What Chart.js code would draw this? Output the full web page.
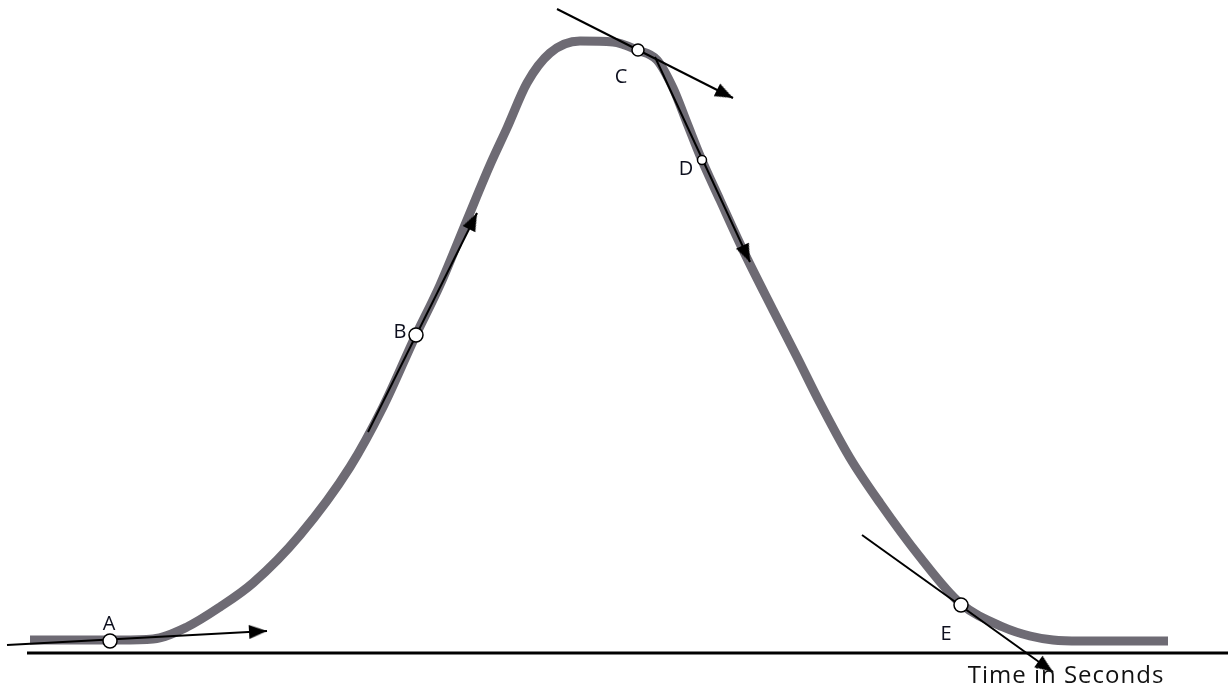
<!DOCTYPE html>
<html>
<head>
<meta charset="utf-8">
<script src="https://cdn.jsdelivr.net/npm/chart.js@4"></script>
<style>
  html, body { margin: 0; padding: 0; background: #ffffff; }
  #wrap { width: 1228px; height: 688px; }
</style>
</head>
<body>
<div id="wrap"><canvas id="c" width="1228" height="688"></canvas></div>
<script>
// ---- Data (x = time units, y = height units) ----
const curveX = [30, 80, 120, 153, 187, 220, 253, 300, 350, 383, 415, 440, 467, 490, 507, 527, 550, 580, 613, 637, 657, 673, 687, 701, 720, 743, 773, 797, 820, 850, 880, 920, 960, 1003, 1030, 1053, 1080, 1168];
const curveY = [48, 48, 48, 49, 61, 81, 105, 153, 221, 281, 351, 403, 468, 523, 560, 605, 635, 647, 646, 638, 628, 600, 565, 530, 488, 438, 378, 331, 285, 230, 185, 131, 85, 61, 52, 48, 47, 47];

const baseX = [27, 1228];
const baseY = [35, 35];

// tangent lines: start point and arrow tip
const tangentNames = ['A', 'B', 'C', 'D', 'E'];
const tangentX0 = [7, 368, 557, 655, 862];
const tangentY0 = [43, 256, 679, 631, 153];
const tangentX1 = [267, 477, 733, 750, 1053];
const tangentY1 = [57, 475, 590, 426, 16];

// marked points on the curve
const markX = [110, 416, 638, 702, 961];
const markY = [47, 353, 638, 528, 83];
const markR = [7, 7, 6, 4.5, 7];

// point labels
const labelText = ['A', 'B', 'C', 'D', 'E'];
const labelX = [109, 400, 621, 686, 946];
const labelY = [58, 350, 605, 513, 48];

const axisTitle = 'Time in Seconds';
const axisTitleX = 1066;
const axisTitleY = 5;

// ---- arrowhead image (tip at canvas centre, pointing up) ----
function makeArrowHead() {
  const cv = document.createElement('canvas');
  cv.width = 16; cv.height = 38;
  const g = cv.getContext('2d');
  g.fillStyle = '#000';
  g.beginPath();
  g.moveTo(8, 19);
  g.lineTo(15, 37);
  g.lineTo(1, 37);
  g.closePath();
  g.fill();
  return cv;
}
const arrowHead = makeArrowHead();

const datasets = [];

datasets.push({
  label: 'points',
  data: markX.map((x, i) => ({ x: x, y: markY[i] })),
  showLine: false,
  pointStyle: 'circle',
  pointRadius: markR,
  pointBackgroundColor: '#ffffff',
  pointBorderColor: '#000000',
  pointBorderWidth: 1.5,
  order: 0
});

tangentNames.forEach((n, i) => {
  datasets.push({
    label: 'tangent ' + n,
    data: [{ x: tangentX0[i], y: tangentY0[i] }, { x: tangentX1[i], y: tangentY1[i] }],
    showLine: true,
    borderColor: '#000000',
    borderWidth: 2,
    pointRadius: [0, 5],
    pointStyle: (ctx) => ctx.dataIndex === 1 ? arrowHead : 'circle',
    pointRotation: (ctx) => {
      const ch = ctx.chart, sx = ch.scales.x, sy = ch.scales.y;
      const dx = sx.getPixelForValue(tangentX1[i]) - sx.getPixelForValue(tangentX0[i]);
      const dy = sy.getPixelForValue(tangentY1[i]) - sy.getPixelForValue(tangentY0[i]);
      return Math.atan2(dx, -dy) * 180 / Math.PI;
    },
    order: 1
  });
});

datasets.push({
  label: 'baseline',
  data: baseX.map((x, i) => ({ x: x, y: baseY[i] })),
  showLine: true,
  borderColor: '#000000',
  borderWidth: 3,
  pointRadius: 0,
  order: 2
});

datasets.push({
  label: 'curve',
  data: curveX.map((x, i) => ({ x: x, y: curveY[i] })),
  showLine: true,
  borderColor: 'rgba(98,94,104,0.92)',
  borderWidth: 9,
  borderCapStyle: 'butt',
  borderJoinStyle: 'round',
  cubicInterpolationMode: 'monotone',
  pointRadius: 0,
  order: 3
});

const textPlugin = {
  id: 'texts',
  afterDatasetsDraw(chart) {
    const ctx = chart.ctx, sx = chart.scales.x, sy = chart.scales.y;
    ctx.save();
    ctx.fillStyle = '#0d0f1e';
    ctx.textAlign = 'center';
    ctx.textBaseline = 'alphabetic';
    ctx.font = '20px "Open Sans", sans-serif';
    labelText.forEach((t, i) => {
      ctx.fillText(t, sx.getPixelForValue(labelX[i]), sy.getPixelForValue(labelY[i]));
    });
    ctx.font = '24px "Open Sans", sans-serif';
    ctx.fillStyle = '#111111';
    try { ctx.letterSpacing = '1px'; } catch (e) {}
    ctx.fillText(axisTitle, sx.getPixelForValue(axisTitleX), sy.getPixelForValue(axisTitleY));
    ctx.restore();
  }
};

new Chart(document.getElementById('c'), {
  type: 'scatter',
  data: { datasets: datasets },
  options: {
    responsive: false,
    animation: false,
    layout: { padding: 0, autoPadding: false },
    plugins: { legend: { display: false }, tooltip: { enabled: false } },
    elements: { line: { tension: 0 } },
    datasets: { scatter: { clip: false } },
    scales: {
      x: { type: 'linear', min: 0, max: 1228, display: false },
      y: { type: 'linear', min: 0, max: 688, display: false }
    }
  },
  plugins: [textPlugin]
});
</script>
</body>
</html>
